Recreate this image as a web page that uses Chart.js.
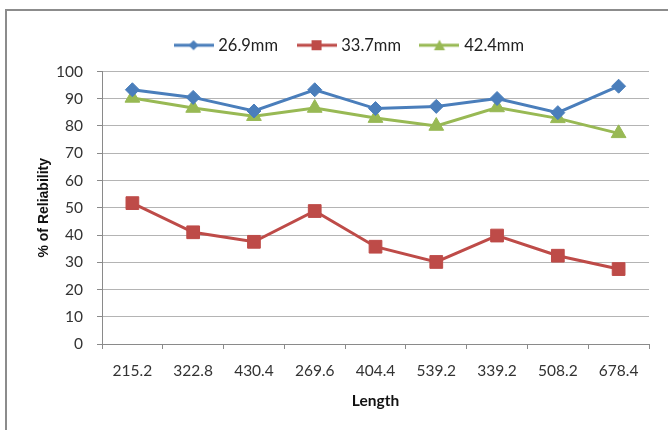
<!DOCTYPE html>
<html>
<head>
<meta charset="utf-8">
<script src="https://cdn.jsdelivr.net/npm/chart.js@4/dist/chart.umd.min.js"></script>
<style>
  html, body { margin: 0; padding: 0; background: #fff; }
  #wrap { position: relative; width: 668px; height: 430px; }
</style>
</head>
<body>
<div id="wrap"><canvas id="c" width="668" height="430"></canvas></div>
<script>
// Lengths along the x axis (category labels)
const lengths = ['215.2', '322.8', '430.4', '269.6', '404.4', '539.2', '339.2', '508.2', '678.4'];

// Reliability (%) per tube diameter
const d269 = [93.3, 90.5, 85.5, 93.3, 86.4, 87.2, 90.1, 84.9, 94.6];
const d337 = [51.7, 41.0, 37.5, 48.8, 35.7, 30.1, 39.8, 32.4, 27.5];
const d424 = [90.3, 86.6, 83.6, 86.6, 82.9, 80.0, 86.8, 82.8, 77.3];

const seriesNames = ['26.9mm', '33.7mm', '42.4mm'];
const yTicks = { min: 0, max: 100, step: 10 };

const BLUE = '#4A7EBB', RED = '#BE4B48', GREEN = '#98B954';

// Small legend glyph: a line with the series marker in the middle
function legendGlyph(color, shape) {
  const cv = document.createElement('canvas');
  cv.width = 40; cv.height = 14;
  const g = cv.getContext('2d');
  g.strokeStyle = color; g.fillStyle = color; g.lineWidth = 3;
  g.beginPath(); g.moveTo(0, 7); g.lineTo(40, 7); g.stroke();
  g.beginPath();
  if (shape === 'diamond') {
    g.moveTo(20, 2); g.lineTo(25, 7); g.lineTo(20, 12); g.lineTo(15, 7);
  } else if (shape === 'square') {
    g.rect(15, 2, 10, 10);
  } else {
    g.moveTo(20, 1.5); g.lineTo(25.5, 12); g.lineTo(14.5, 12);
  }
  g.closePath(); g.fill();
  return cv;
}

// Outer frame of the chart object
const framePlugin = {
  id: 'frame',
  beforeDraw(chart) {
    const ctx = chart.ctx;
    ctx.save();
    ctx.strokeStyle = '#8c8c8c';
    ctx.lineWidth = 2;
    ctx.strokeRect(6, 10, 700, 460);
    ctx.restore();
  }
};

// Extra room under the legend, and legend nudged over the plot area
const legendGap = {
  id: 'legendGap',
  beforeInit(chart) {
    const fit = chart.legend.fit;
    chart.legend.fit = function () {
      fit.bind(chart.legend)();
      this.height += 8;
    };
  },
  afterLayout(chart) {
    chart.legend.left += 26;
    chart.legend.right += 26;
  }
};

const mk = (label, data, color, style, r) => ({
  label, data,
  borderColor: color, backgroundColor: color,
  borderWidth: 3,
  pointStyle: style, pointRadius: r, pointHoverRadius: r,
  pointBackgroundColor: color, pointBorderColor: color, pointBorderWidth: 1,
  tension: 0, fill: false
});

new Chart(document.getElementById('c'), {
  type: 'line',
  data: {
    labels: lengths,
    datasets: [
      mk(seriesNames[0], d269, BLUE, 'rectRot', 7),
      mk(seriesNames[1], d337, RED, 'rect', 9),
      mk(seriesNames[2], d424, GREEN, 'triangle', 8.5)
    ]
  },
  options: {
    responsive: false,
    animation: false,
    layout: { padding: { top: 15, left: 0, right: 19, bottom: 16 } },
    plugins: {
      tooltip: { enabled: false },
      legend: {
        position: 'top',
        labels: {
          usePointStyle: true,
          pointStyleWidth: 33,
          padding: 22,
          color: '#222',
          font: { family: 'Lato', size: 16.5 },
          generateLabels(chart) {
            const glyphs = [legendGlyph(BLUE, 'diamond'), legendGlyph(RED, 'square'), legendGlyph(GREEN, 'triangle')];
            return chart.data.datasets.map((ds, i) => ({
              text: ds.label, pointStyle: glyphs[i], datasetIndex: i,
              fillStyle: ds.borderColor, strokeStyle: ds.borderColor, lineWidth: 0, fontColor: '#222'
            }));
          }
        }
      }
    },
    scales: {
      x: {
        offset: true,
        afterFit(s) { s.height = 70; },
        grid: { offset: true, drawOnChartArea: false, drawTicks: true, tickLength: 5, color: '#8a8a8a' },
        border: { color: '#8a8a8a', width: 1 },
        ticks: { color: '#333', font: { family: 'Lato', size: 15.5 }, padding: 13, maxRotation: 0 },
        title: { display: true, text: 'Length', color: '#111', font: { family: 'Lato', size: 15.5, weight: 'bold' }, padding: { top: 4, bottom: 4 } }
      },
      y: {
        min: yTicks.min, max: yTicks.max,
        afterFit(s) { s.width = 102; },
        grid: { color: '#b4b4b4', lineWidth: 1, tickLength: 5, tickColor: '#8a8a8a' },
        border: { color: '#8a8a8a', width: 1 },
        ticks: { stepSize: yTicks.step, color: '#333', font: { family: 'Lato', size: 15.5 }, padding: 14 },
        title: { display: true, text: '% of Reliability', color: '#111', font: { family: 'Liberation Sans', size: 14, weight: 'bold' }, padding: { top: 36, bottom: 0 } }
      }
    }
  },
  plugins: [framePlugin, legendGap]
});
</script>
</body>
</html>
